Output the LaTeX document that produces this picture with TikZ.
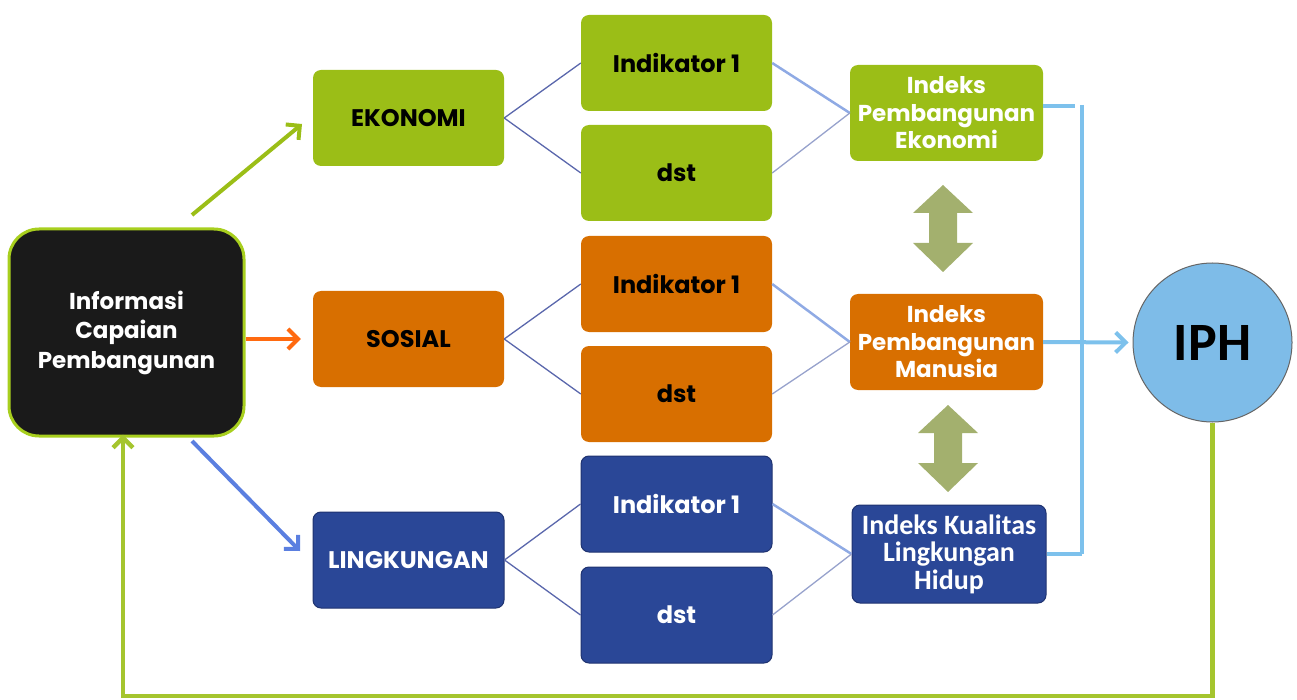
\documentclass[tikz,border=0pt]{standalone}
\usepackage{fontspec}
\setmainfont{Poppins}
\newfontfamily\calfont{Carlito}
\usetikzlibrary{arrows.meta}
\definecolor{gr}{HTML}{9BBE17}
\definecolor{grb}{HTML}{A8CF1E}
\definecolor{orn}{HTML}{D86F00}
\definecolor{orr}{HTML}{FF6A10}
\definecolor{blu}{HTML}{2A4797}
\definecolor{blub}{HTML}{1F3370}
\definecolor{bla}{HTML}{1A1A1A}
\definecolor{conn}{HTML}{5A67AC}
\definecolor{connl}{HTML}{8FAAE4}
\definecolor{conng}{HTML}{97A2CC}
\definecolor{lb}{HTML}{7DC1EC}
\definecolor{iphc}{HTML}{7EBCE8}
\definecolor{dbl}{HTML}{A3B06E}
\definecolor{arb}{HTML}{5B7FE0}
\begin{document}
\begin{tikzpicture}[x=1pt,y=-1pt,
  bx/.style={rounded corners=8pt, minimum width=191pt, minimum height=96pt,
    align=center, inner sep=0pt, font=\bfseries\fontsize{24}{27}\selectfont},
  gbox/.style={bx, fill=gr},
  obox/.style={bx, fill=orn},
  bbox/.style={bx, fill=blu, draw=blub, line width=1pt, text=white},
  ibox/.style={minimum width=193pt, text=white, font=\bfseries\fontsize{23}{27.5}\selectfont},
  lcon/.style={conn, line width=1.3pt},
  rcon/.style={connl, line width=2.5pt},
  rcon2/.style={conng, line width=1.3pt},
  lbl/.style={lb, line width=4pt},
  chev/.style={-{Straight Barb[length=10pt,width=20pt]}, line width=4pt},
  dblarr/.pic={\fill[dbl] (0,0) -- (30,28) -- (14,28) -- (14,58) -- (30,58)
     -- (0,87) -- (-30,58) -- (-14,58) -- (-14,28) -- (-30,28) -- cycle;}]
\useasboundingbox (0,0) rectangle (1297,700);
% main nodes
\node[rounded corners=30pt, minimum width=235pt, minimum height=207pt,
  fill=bla, draw=grb, line width=3pt, text=white, align=center,
  font=\bfseries\fontsize{23}{29.5}\selectfont] (inf) at (126.5,332.5)
  {Informasi\\Capaian\\Pembangunan};
\node[gbox] (eko) at (408.5,118) {EKONOMI};
\node[obox] (sos) at (408.5,339) {SOSIAL};
\node[bbox] (lin) at (408.5,560) {LINGKUNGAN};
\node[gbox] (gi) at (676.5,63) {Indikator 1};
\node[gbox] (gd) at (676.5,173) {dst};
\node[obox] (oi) at (676.5,284) {Indikator 1};
\node[obox] (od) at (676.5,394) {dst};
\node[bbox] (bi) at (676.5,504) {Indikator 1};
\node[bbox] (bd) at (676.5,615) {dst};
\node[gbox, ibox] (ipe) at (946.5,113)
  {Indeks\\Pembangunan\\Ekonomi};
\node[obox, ibox] (ipm) at (946.5,342)
  {Indeks\\Pembangunan\\Manusia};
\node[bbox, minimum width=194pt, minimum height=98pt,
  font=\calfont\bfseries\fontsize{28}{27.5}\selectfont] (ikl) at (949,554)
  {Indeks Kualitas\\Lingkungan\\Hidup};
\node[circle, minimum size=159pt, fill=iphc, draw=black!60, line width=1pt,
  font=\calfont\bfseries\fontsize{54}{54}\selectfont] (iph) at (1212.5,342.5) {IPH};
% connectors left
\foreach \s/\a/\b in {eko/gi/gd, sos/oi/od, lin/bi/bd}{
  \draw[lcon] (\s.east) -- (\a.west);
  \draw[lcon] (\s.east) -- (\b.west);
}
% connectors right
\draw[rcon] (gi.east) -- (ipe.west);
\draw[rcon2] (gd.east) -- (ipe.west);
\draw[rcon] (oi.east) -- (ipm.west);
\draw[rcon2] (od.east) -- (ipm.west);
\draw[rcon] (bi.east) -- (ikl.west);
\draw[rcon2] (bd.east) -- (ikl.west);
% arrows from info box
\coordinate (ga) at (192,215);
\coordinate (gb) at (302,124);
\draw[chev, gr] (ga) -- (gb);
\draw[chev, orr] (inf.east |- sos.west) -- ([xshift=-12pt]sos.west);
\coordinate (ba) at (192,441);
\coordinate (bb) at (300,551);
\draw[chev, arb] (ba) -- (bb);
% double arrows
\pic at (943,185) {dblarr};
\pic at (948,405) {dblarr};
% light blue bracket
\coordinate (vt) at (1082,105);
\coordinate (vb) at (1082,554);
\coordinate (ht) at (1075,106);
\draw[lbl] (ipe.east |- ht) -- (ht);
\draw[lbl] (vt) -- (vb);
\draw[lbl] (ikl.east) -- (vb);
\draw[lbl, -{Straight Barb[length=10pt,width=20pt]}] (ipm.east) -- ([xshift=-4pt]iph.west);
% feedback loop
\coordinate (fb) at (123,696);
\draw[gr!90!white, line width=4.5pt, -{Straight Barb[length=10pt,width=20pt]}]
  (iph.south) |- (fb) -- ([yshift=3pt]fb |- inf.south);
\end{tikzpicture}
\end{document}
